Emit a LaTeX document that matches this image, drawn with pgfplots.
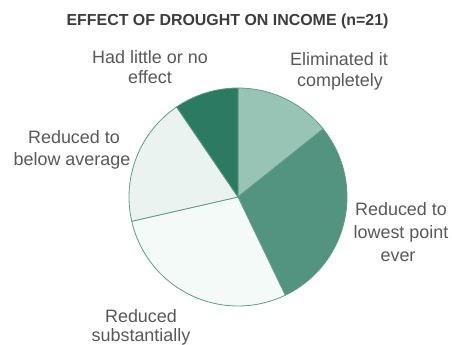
\documentclass[border=0pt]{standalone}
\usepackage{fontspec}
\setmainfont{Liberation Sans}
\usepackage{pgfplots}
\usepackage{pgfplotstable}
\pgfplotsset{compat=1.18}
\definecolor{cElim}{RGB}{152,196,181}
\definecolor{cLow}{RGB}{82,148,128}
\definecolor{cSub}{RGB}{244,250,248}
\definecolor{cBel}{RGB}{234,243,240}
\definecolor{cLit}{RGB}{44,122,97}
\definecolor{cEdge}{RGB}{95,155,135}
\definecolor{cTxt}{RGB}{88,88,88}
\definecolor{cTitle}{RGB}{60,60,60}
\pgfplotstableread{
label count
Eliminated 3
Lowest 6
Substantially 6
BelowAverage 4
Little 2
}\piedata
\begin{document}
\begin{tikzpicture}[x=1bp,y=1bp]
\useasboundingbox (0,0) rectangle (452,344);
\pgfplotstablegetelem{0}{count}\of\piedata \edef\cA{\pgfplotsretval}
\pgfplotstablegetelem{1}{count}\of\piedata \edef\cB{\pgfplotsretval}
\pgfplotstablegetelem{2}{count}\of\piedata \edef\cC{\pgfplotsretval}
\pgfplotstablegetelem{3}{count}\of\piedata \edef\cD{\pgfplotsretval}
\pgfplotstablegetelem{4}{count}\of\piedata \edef\cE{\pgfplotsretval}
\pgfmathsetmacro\tot{\cA+\cB+\cC+\cD+\cE}
\pgfmathsetmacro\aA{\cA/\tot*360}
\pgfmathsetmacro\aB{(\cA+\cB)/\tot*360}
\pgfmathsetmacro\aC{(\cA+\cB+\cC)/\tot*360}
\pgfmathsetmacro\aD{(\cA+\cB+\cC+\cD)/\tot*360}
\begin{axis}[at={(238bp,147bp)}, anchor=origin, x=1bp, y=1bp,
  xmin=-130, xmax=130, ymin=-130, ymax=130, hide axis, clip=false,
  samples=60, variable=\t]
\addplot[fill=cElim, draw=cEdge, line width=0.8pt, domain=0:\aA] ({109*sin(\t)},{109*cos(\t)}) -- (axis cs:0,0) -- cycle;
\addplot[fill=cLow, draw=cEdge, line width=0.8pt, domain=\aA:\aB] ({109*sin(\t)},{109*cos(\t)}) -- (axis cs:0,0) -- cycle;
\addplot[fill=cSub, draw=cEdge, line width=0.8pt, domain=\aB:\aC] ({109*sin(\t)},{109*cos(\t)}) -- (axis cs:0,0) -- cycle;
\addplot[fill=cBel, draw=cEdge, line width=0.8pt, domain=\aC:\aD] ({109*sin(\t)},{109*cos(\t)}) -- (axis cs:0,0) -- cycle;
\addplot[fill=cLit, draw=cEdge, line width=0.8pt, domain=\aD:360] ({109*sin(\t)},{109*cos(\t)}) -- (axis cs:0,0) -- cycle;
\end{axis}
\node[anchor=base, text=cTitle, font=\bfseries\fontsize{16}{16}\selectfont] at (227.5,319) {EFFECT OF DROUGHT ON INCOME (n=21)};
\begin{scope}[every node/.style={anchor=base, text=cTxt, font=\fontsize{18}{18}\selectfont, inner sep=0pt}]
\node at (150,281) {Had little or no};
\node at (150,261) {effect};
\node at (339,279) {Eliminated it};
\node at (340,258) {completely};
\node at (74,201) {Reduced to};
\node at (72,179) {below average};
\node at (401,129) {Reduced to};
\node at (401,106) {lowest point};
\node at (398,83) {ever};
\node at (141,22) {Reduced};
\node at (141,3) {substantially};
\end{scope}
\end{tikzpicture}
\end{document}
